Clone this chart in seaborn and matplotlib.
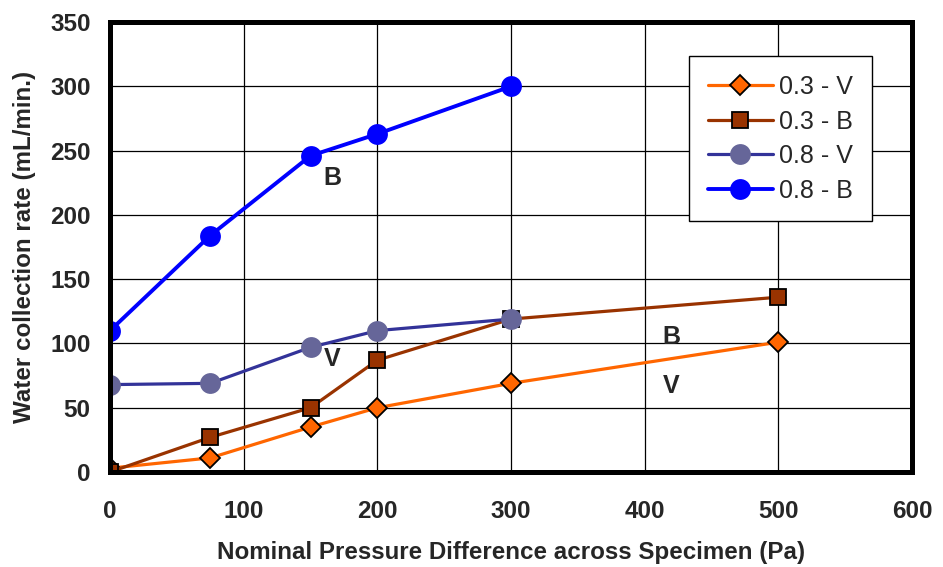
import matplotlib
matplotlib.use("Agg")
import matplotlib.pyplot as plt
import seaborn as sns

pressure_03v = [0, 75, 150, 200, 300, 500]
rate_03v = [3, 11, 35, 50, 69, 101]
pressure_03b = [0, 75, 150, 200, 300, 500]
rate_03b = [0, 27, 50, 87, 119, 136]
pressure_08v = [0, 75, 150, 200, 300]
rate_08v = [68, 69, 97, 110, 119]
pressure_08b = [0, 75, 150, 200, 300]
rate_08b = [110, 184, 246, 263, 300]

sns.set_style("white")
plt.rcParams['font.family'] = ['Liberation Sans', 'DejaVu Sans']

fig = plt.figure(figsize=(9.43, 5.67), dpi=100)
ax = fig.add_axes([0.1167, 0.1675, 0.8503, 0.7935])

sns.lineplot(x=pressure_03v, y=rate_03v, ax=ax, color="#FF6600", lw=2.3,
             marker="D", markersize=10, markerfacecolor="#FF6600",
             markeredgecolor="black", markeredgewidth=1.3, label="0.3 - V")
sns.lineplot(x=pressure_03b, y=rate_03b, ax=ax, color="#993300", lw=2.3,
             marker="s", markersize=12, markerfacecolor="#993300",
             markeredgecolor="black", markeredgewidth=1.3, label="0.3 - B")
sns.lineplot(x=pressure_08v, y=rate_08v, ax=ax, color="#333399", lw=2.3,
             marker="o", markersize=15, markerfacecolor="#666699",
             markeredgecolor="#666699", markeredgewidth=0, label="0.8 - V")
sns.lineplot(x=pressure_08b, y=rate_08b, ax=ax, color="#0000FF", lw=2.8,
             marker="o", markersize=15, markerfacecolor="#0000FF",
             markeredgecolor="#0000FF", markeredgewidth=0, label="0.8 - B")

ax.set_xlim(0, 600)
ax.set_ylim(0, 350)
ax.set_xticks(range(0, 601, 100))
ax.set_yticks(range(0, 351, 50))
ax.grid(True, color="black", lw=0.9)
ax.set_axisbelow(True)
for s in ax.spines.values():
    s.set_linewidth(3.6)
    s.set_color("black")
ax.tick_params(direction="in", length=6, width=3, labelsize=17.5, pad=14)
for lab in ax.get_xticklabels() + ax.get_yticklabels():
    lab.set_fontweight("bold")
ax.tick_params(axis="x", pad=20)

ax.set_xlabel("Nominal Pressure Difference across Specimen (Pa)",
              fontsize=17.4, fontweight="bold", labelpad=13)
ax.set_ylabel("Water collection rate (mL/min.)", fontsize=17.4,
              fontweight="bold", labelpad=10)

ax.text(166, 229, "B", fontsize=18, fontweight="bold", ha="center", va="center")
ax.text(166, 88, "V", fontsize=18, fontweight="bold", ha="center", va="center")
ax.text(420, 105, "B", fontsize=18, fontweight="bold", ha="center", va="center")
ax.text(420, 67, "V", fontsize=18, fontweight="bold", ha="center", va="center")

leg = ax.legend(loc="upper right", bbox_to_anchor=(0.950, 0.924), fontsize=18,
                frameon=True, fancybox=False, edgecolor="black",
                framealpha=1, handlelength=2.6, handletextpad=0.25,
                borderpad=0.75, labelspacing=0.42, borderaxespad=0)
leg.get_frame().set_linewidth(1.0)

fig.savefig("out.png", dpi=100)
